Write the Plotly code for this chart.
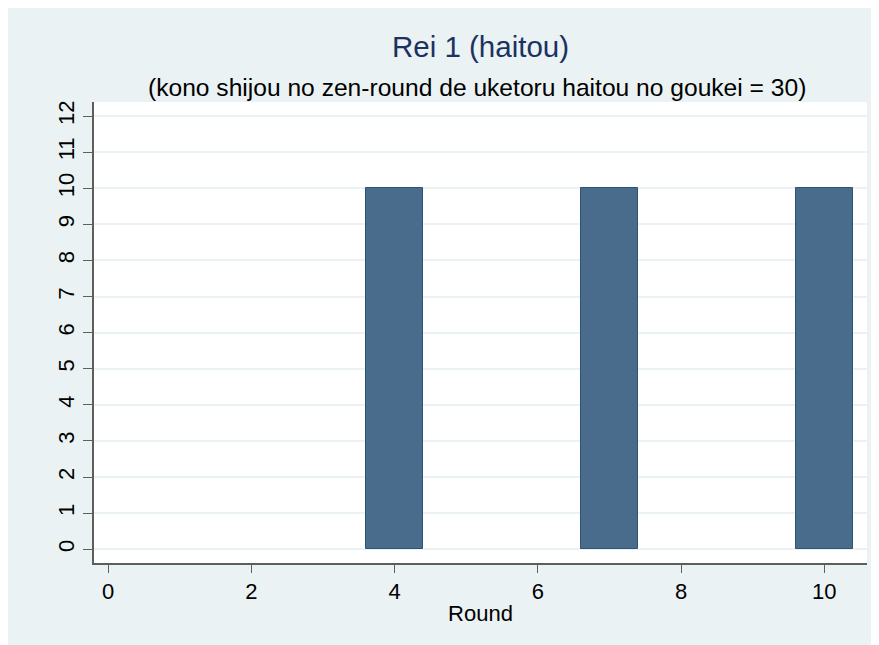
import plotly.graph_objects as go

rounds = [1, 2, 3, 4, 5, 6, 7, 8, 9, 10]
dividends = [0, 0, 0, 10, 0, 0, 10, 0, 0, 10]
x_ticks = [0, 2, 4, 6, 8, 10]
y_ticks = list(range(0, 13))
title_text = "Rei 1 (haitou)"
subtitle_text = "(kono shijou no zen-round de uketoru haitou no goukei = 30)"
x_title = "Round"

BG = "#EAF2F3"
FONT = "Liberation Sans, Arial, sans-serif"

OFF = 8  # page body margin
W, H = 879 - OFF, 645 - OFF
L = 94.3 - OFF
T = 102 - OFF
R = W - (867 - OFF)
B = H - (562.7 - OFF)
pw, ph = W - L - R, H - T - B

def px_y(p):
    return (H - B - (p - OFF)) / ph

fig = go.Figure()
fig.add_trace(go.Bar(
    x=rounds, y=dividends, width=0.8,
    marker=dict(color="#496C8D",
                line=dict(color="#2B5378", width=[1 if v > 0 else 0 for v in dividends])),
    showlegend=False,
))

fig.update_layout(
    width=W, height=H,
    margin=dict(l=L, r=R, t=T, b=B, pad=0),
    paper_bgcolor=BG, plot_bgcolor="white",
    font=dict(family=FONT, color="black"),
    title=dict(text=title_text, x=0.5, xref="paper", xanchor="center",
               y=1 - (47 - OFF) / H, yref="container", yanchor="middle",
               font=dict(size=29.5, color="#1C3161", family=FONT)),
    annotations=[dict(text=subtitle_text, xref="paper", yref="paper",
                      x=0.496, y=px_y(88), xanchor="center", yanchor="middle",
                      showarrow=False, font=dict(size=24.6, color="black", family=FONT))],
    bargap=0,
)

fig.update_xaxes(
    range=[-0.196, 10.596], tickvals=x_ticks, ticktext=[str(v) for v in x_ticks],
    showgrid=False, zeroline=False,
    showline=True, linecolor="#5E5E5E", linewidth=1.5,
    ticks="outside", ticklen=8, tickcolor="#5E5E5E", tickwidth=1.3,
    tickfont=dict(size=22, color="black", family=FONT),
    title=dict(text=x_title, font=dict(size=22, color="black", family=FONT), standoff=2),
)
fig.update_yaxes(
    range=[-0.38, 12.388], tickvals=y_ticks, ticktext=[str(v) for v in y_ticks],
    showgrid=True, gridcolor=BG, gridwidth=1.6, zeroline=False,
    showline=True, linecolor="#5E5E5E", linewidth=1.5,
    ticks="outside", ticklen=9, tickcolor="#5E5E5E", tickwidth=1.3,
    tickangle=-90,
    tickfont=dict(size=22, color="black", family=FONT),
)

fig.write_html("out.html")
